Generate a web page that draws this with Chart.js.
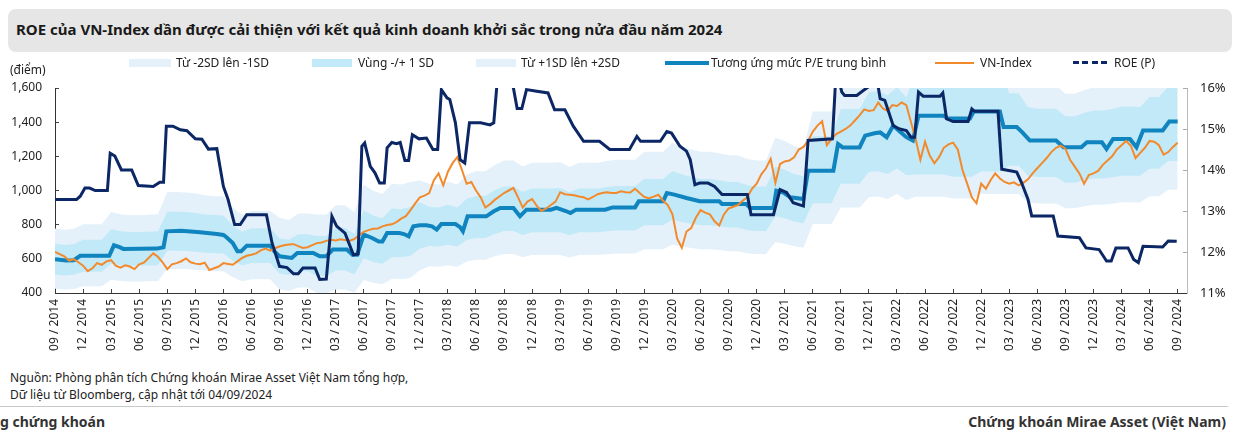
<!DOCTYPE html>
<html lang="vi">
<head>
<meta charset="utf-8">
<script src="https://cdn.jsdelivr.net/npm/chart.js@4.4.1/dist/chart.umd.min.js"></script>
<style>
  body { margin: 0; background: #fff; font-family: 'Noto Sans', sans-serif; color: #222; }
  #wrap { position: relative; width: 1237px; height: 439px; overflow: hidden; background: #fff; }
  #chart { position: absolute; left: 0; top: 0; }
  .title { position: absolute; left: 8px; top: 9px; width: 1224px; height: 43px; background: #e6e6e6; border-radius: 8px; }
  .title span { position: absolute; left: 8px; top: 10px; font-weight: 700; font-size: 15px; color: #1a1a1a; white-space: nowrap; }
  .txt { position: absolute; font-size: 12px; line-height: 16px; white-space: nowrap; color: #222; }
  .sw { position: absolute; }
  .rule { position: absolute; left: 0; top: 406px; width: 1228px; height: 1px; background: #c8c8c8; }
  .foot { position: absolute; top: 412px; font-size: 14px; font-weight: 700; color: #333; white-space: nowrap; }
</style>
</head>
<body>
<div id="wrap">
  <canvas id="chart" width="1237" height="365"></canvas>
  <div class="title"><span>ROE của VN-Index dần được cải thiện với kết quả kinh doanh khởi sắc trong nửa đầu năm 2024</span></div>

  <div class="sw" style="left:129px;top:59px;width:42px;height:8px;background:#e4f1fa"></div>
  <div class="txt" style="left:176px;top:55px">Từ -2SD lên -1SD</div>
  <div class="sw" style="left:312px;top:59px;width:40px;height:8px;background:#c2e9f8"></div>
  <div class="txt" style="left:358px;top:55px">Vùng -/+ 1 SD</div>
  <div class="sw" style="left:476px;top:59px;width:40px;height:8px;background:#e4f1fa"></div>
  <div class="txt" style="left:521px;top:55px">Từ +1SD lên +2SD</div>
  <div class="sw" style="left:665px;top:61px;width:44px;height:4px;background:#0f84bf"></div>
  <div class="txt" style="left:711px;top:55px">Tương ứng mức P/E trung bình</div>
  <div class="sw" style="left:935px;top:62px;width:39px;height:2px;background:#f28a2c"></div>
  <div class="txt" style="left:980px;top:55px">VN-Index</div>
  <div class="sw" style="left:1073px;top:61px;width:36px;height:3px;background:repeating-linear-gradient(90deg,#0b2765 0 6px,transparent 6px 9.5px)"></div>
  <div class="txt" style="left:1114px;top:55px">ROE (P)</div>

  <div class="txt" style="left:10px;top:62px">(điểm)</div>

  <div class="txt" style="left:10px;top:370px">Nguồn: Phòng phân tích Chứng khoán Mirae Asset Việt Nam tổng hợp,</div>
  <div class="txt" style="left:10px;top:387px">Dữ liệu từ Bloomberg, cập nhật tới 04/09/2024</div>
  <div class="rule"></div>
  <div class="foot" style="left:0">g chứng khoán</div>
  <div class="foot" style="right:11px">Chứng khoán Mirae Asset (Việt Nam)</div>
</div>

<script>
// x positions are months counted from 09/2014 (0) to 09/2024 (120)
const tickLabels = [
  '09 / 2014', '12 / 2014', '03 / 2015', '06 / 2015', '09 / 2015', '12 / 2015', '03 / 2016', '06 / 2016',
  '09 / 2016', '12 / 2016', '03 / 2017', '06 / 2017', '09 / 2017', '12 / 2017', '03 / 2018', '06 / 2018',
  '09 / 2018', '12 / 2018', '03 / 2019', '06 / 2019', '09 / 2019', '12 / 2019', '03 / 2020', '06 / 2020',
  '09 / 2020', '12 / 2020', '03 / 2021', '06 / 2021', '09 / 2021', '12 / 2021', '03 / 2022', '06 / 2022',
  '09 / 2022', '12 / 2022', '03 / 2023', '06 / 2023', '09 / 2023', '12 / 2023', '03 / 2024', '06 / 2024',
  '09 / 2024'
];

// VN-Index, one value every half month
const vnIndex = [
  640, 628, 615, 590, 598, 580, 560, 528, 545, 575,
  565, 585, 592, 560, 548, 562, 555, 540, 568, 578,
  605, 632, 612, 580, 540, 568, 575, 586, 602, 580,
  572, 568, 578, 535, 545, 555, 575, 570, 565, 585,
  605, 618, 624, 632, 650, 660, 648, 662, 672, 680,
  684, 686, 674, 664, 668, 680, 692, 696, 705, 712,
  708, 714, 710, 706, 716, 738, 758, 768, 776, 778,
  790, 798, 802, 815, 835, 850, 885, 925, 960, 970,
  985, 1060, 1100, 1030, 1110, 1160, 1196, 1120, 1040, 1050,
  1000, 960, 900, 920, 945, 965, 985, 1000, 1015, 960,
  900, 935, 950, 910, 880, 895, 915, 935, 990, 978,
  975, 972, 965, 960, 948, 962, 978, 985, 990, 986,
  985, 995, 990, 988, 1010, 985, 962, 955, 964, 975,
  940, 915, 860, 720, 665, 760, 780, 840, 885, 870,
  860, 820, 795, 860, 895, 905, 915, 940, 960, 1010,
  1040, 1095, 1130, 1185, 1045, 1155, 1170, 1175, 1195, 1240,
  1255, 1290, 1345, 1380, 1405, 1265, 1300, 1330, 1345, 1360,
  1380, 1410, 1440, 1475, 1465, 1470, 1515, 1480, 1465, 1500,
  1495, 1515, 1500, 1400, 1300, 1180, 1285, 1205, 1160, 1195,
  1250, 1270, 1280, 1240, 1120, 1040, 960, 925, 1040, 1010,
  1060, 1100, 1070, 1050, 1040, 1048, 1030, 1045, 1065, 1100,
  1130, 1160, 1190, 1225, 1250, 1262, 1245, 1180, 1140, 1100,
  1040, 1090, 1100, 1115, 1150, 1175, 1200, 1240, 1265, 1290,
  1262, 1190, 1220, 1250, 1290, 1285, 1265, 1210, 1225, 1255,
  1280
];

// index level at the mean P/E (breakpoints)
const peMonths = [
  0, 1.2, 2.0, 2.7, 5.8, 6.3, 6.9, 7.3, 10.9, 11.6,
  11.9, 13.5, 15.5, 17.3, 18.0, 18.3, 19.0, 19.5, 19.9, 20.5,
  23.0, 23.5, 24.0, 25.3, 25.9, 27.6, 28.3, 29.0, 29.7, 31.2,
  31.8, 32.3, 33.0, 33.9, 34.6, 35.0, 35.5, 36.8, 37.3, 37.8,
  38.3, 39.0, 39.7, 40.3, 40.8, 41.3, 42.8, 43.3, 43.6, 44.1,
  46.1, 46.9, 47.6, 49.0, 49.7, 50.4, 53.0, 53.6, 54.6, 55.1,
  55.7, 58.8, 59.6, 62.0, 62.4, 65.0, 65.4, 66.2, 67.5, 68.9,
  71.0, 71.3, 73.9, 74.3, 76.8, 77.1, 77.8, 78.6, 80.0, 80.5,
  83.2, 83.7, 84.2, 86.0, 86.6, 87.6, 88.2, 88.9, 89.6, 90.3,
  91.0, 91.7, 92.3, 95.0, 95.4, 97.8, 98.2, 101.0, 101.4, 102.8,
  103.4, 104.2, 107.0, 107.8, 109.7, 110.3, 111.9, 112.4, 113.1, 114.9,
  115.6, 116.3, 118.4, 119.1, 120.0
];
const peMean = [
  598, 590, 592, 618, 618, 679, 668, 658, 660, 668,
  761, 765, 755, 745, 740, 728, 693, 644, 644, 677,
  677, 640, 615, 605, 634, 634, 615, 615, 654, 654,
  624, 624, 741, 722, 702, 702, 751, 751, 745, 732,
  790, 796, 796, 790, 771, 804, 804, 785, 761, 849,
  849, 878, 898, 898, 849, 888, 888, 898, 880, 868,
  888, 888, 901, 901, 937, 937, 985, 976, 956, 937,
  937, 921, 921, 898, 898, 999, 990, 960, 950, 1116,
  1116, 1272, 1252, 1252, 1321, 1335, 1340, 1312, 1380, 1345,
  1312, 1292, 1438, 1438, 1422, 1422, 1462, 1462, 1371, 1371,
  1340, 1292, 1292, 1253, 1253, 1282, 1282, 1243, 1302, 1302,
  1253, 1351, 1351, 1404, 1404
];

// standard deviation bands, one value per month
const bandPlus2 = [
  777, 770, 775, 803, 803, 803, 874, 861, 855, 855,
  858, 861, 991, 991, 988, 982, 972, 967, 965, 901,
  858, 880, 880, 880, 840, 828, 865, 865, 860, 860,
  913, 913, 872, 1035, 998, 980, 1040, 1035, 1050, 1059,
  1040, 1035, 1053, 1035, 1094, 1112, 1112, 1150, 1176, 1176,
  1140, 1163, 1163, 1163, 1165, 1137, 1163, 1163, 1163, 1172,
  1180, 1180, 1180, 1227, 1227, 1227, 1280, 1258, 1240, 1227,
  1227, 1218, 1207, 1207, 1185, 1176, 1176, 1309, 1290, 1260,
  1245, 1462, 1462, 1462, 1640, 1640, 1640, 1749, 1755, 1729,
  1782, 1719, 1869, 1869, 1869, 1869, 1849, 1849, 1849, 1901,
  1901, 1901, 1714, 1714, 1625, 1615, 1615, 1615, 1566, 1566,
  1588, 1603, 1603, 1613, 1628, 1628, 1625, 1689, 1689, 1755,
  1755
];
const bandPlus1 = [
  688, 681, 685, 711, 711, 711, 773, 761, 757, 757,
  759, 761, 876, 876, 874, 868, 860, 856, 853, 797,
  759, 779, 779, 779, 721, 711, 744, 744, 734, 734,
  780, 780, 745, 884, 854, 837, 895, 890, 905, 931,
  905, 901, 917, 901, 952, 968, 968, 1001, 1024, 1024,
  992, 1012, 1012, 1012, 1014, 990, 1012, 1012, 1012, 1020,
  1027, 1027, 1027, 1068, 1068, 1068, 1113, 1095, 1079, 1068,
  1068, 1060, 1050, 1050, 1031, 1024, 1024, 1139, 1122, 1097,
  1083, 1317, 1317, 1317, 1477, 1477, 1477, 1575, 1581, 1558,
  1605, 1548, 1682, 1682, 1682, 1682, 1664, 1664, 1664, 1711,
  1711, 1711, 1570, 1570, 1489, 1479, 1479, 1479, 1435, 1435,
  1454, 1468, 1468, 1477, 1491, 1491, 1489, 1547, 1547, 1608,
  1608
];
const bandMinus1 = [
  508, 503, 507, 525, 525, 525, 571, 563, 559, 559,
  561, 563, 648, 648, 646, 642, 636, 632, 631, 589,
  561, 575, 575, 575, 513, 505, 528, 528, 500, 500,
  532, 532, 508, 603, 581, 571, 611, 609, 618, 661,
  675, 672, 683, 672, 710, 722, 722, 746, 763, 763,
  740, 755, 755, 755, 756, 738, 755, 755, 755, 761,
  766, 766, 766, 796, 796, 796, 830, 816, 805, 796,
  796, 791, 783, 783, 768, 763, 763, 849, 837, 818,
  808, 926, 926, 926, 1039, 1039, 1039, 1108, 1112, 1096,
  1129, 1089, 1093, 1093, 1093, 1093, 1081, 1081, 1081, 1111,
  1111, 1111, 1145, 1145, 1086, 1079, 1079, 1079, 1046, 1046,
  1060, 1070, 1070, 1077, 1087, 1087, 1086, 1128, 1128, 1172,
  1172
];
const bandMinus2 = [
  425, 420, 423, 439, 439, 439, 477, 470, 467, 467,
  469, 470, 541, 541, 540, 536, 531, 528, 527, 492,
  469, 481, 481, 481, 420, 413, 432, 432, 400, 400,
  420, 420, 401, 476, 460, 451, 483, 481, 489, 533,
  556, 553, 563, 553, 585, 594, 594, 615, 629, 629,
  609, 622, 622, 622, 623, 608, 622, 622, 622, 627,
  631, 631, 631, 656, 656, 656, 683, 672, 663, 656,
  656, 651, 645, 645, 633, 629, 629, 699, 689, 674,
  665, 804, 804, 804, 901, 901, 901, 961, 965, 950,
  979, 945, 963, 963, 963, 963, 953, 953, 953, 980,
  980, 980, 980, 980, 930, 924, 924, 924, 896, 896,
  908, 917, 917, 922, 931, 931, 930, 966, 966, 1004,
  1004
];

// ROE (%), right axis (breakpoints)
const roeMonths = [
  0, 2.3, 2.7, 3.2, 3.7, 4.3, 5.6, 5.9, 6.4, 7.1,
  8.2, 8.9, 10.5, 11.2, 11.6, 11.9, 12.6, 13.4, 14.1, 15.0,
  15.7, 16.4, 17.3, 18.0, 18.5, 19.2, 19.8, 20.5, 22.6, 23.2,
  24.0, 24.8, 25.5, 26.0, 26.5, 27.8, 28.3, 29.0, 29.6, 30.1,
  31.0, 31.9, 32.4, 32.8, 33.1, 33.7, 34.2, 34.7, 35.2, 35.5,
  36.0, 36.5, 36.9, 37.4, 37.8, 38.2, 38.9, 39.7, 40.4, 40.9,
  41.3, 41.9, 42.2, 42.8, 43.3, 43.8, 44.3, 45.5, 46.5, 46.9,
  47.3, 48.3, 49.0, 49.4, 49.9, 50.4, 51.5, 52.7, 53.4, 54.5,
  55.4, 56.5, 58.2, 59.3, 61.4, 62.2, 62.6, 64.7, 65.4, 65.9,
  66.8, 67.5, 67.9, 68.4, 68.9, 69.8, 70.5, 71.3, 74.0, 74.4,
  76.8, 77.5, 78.2, 78.9, 80.0, 80.5, 83.1, 83.4, 83.7, 84.1,
  84.4, 85.7, 86.4, 86.9, 87.8, 88.2, 88.7, 89.6, 90.3, 91.0,
  91.5, 91.9, 92.3, 92.8, 94.6, 94.9, 95.3, 96.0, 97.6, 98.0,
  98.3, 100.8, 101.2, 102.1, 102.8, 103.3, 104.0, 104.4, 106.7, 107.2,
  109.5, 110.2, 111.6, 112.4, 112.9, 113.4, 114.7, 115.3, 115.8, 116.3,
  118.4, 119.0, 119.9
];
const roeValues = [
  13.28, 13.28, 13.36, 13.56, 13.56, 13.5, 13.5, 14.41, 14.34, 14.0,
  14.0, 13.62, 13.6, 13.7, 13.7, 15.07, 15.07, 14.98, 14.96, 14.76,
  14.75, 14.51, 14.52, 13.6, 13.28, 12.67, 12.67, 12.91, 12.91, 12.22,
  11.65, 11.62, 11.47, 11.47, 11.61, 11.61, 11.33, 11.34, 12.87, 12.63,
  12.46, 11.93, 11.95, 14.58, 14.66, 14.09, 13.93, 13.68, 13.68, 14.54,
  14.67, 14.64, 14.67, 14.23, 14.23, 14.86, 14.76, 14.78, 14.5, 14.5,
  15.96, 15.76, 15.72, 15.15, 14.25, 14.17, 15.15, 15.15, 15.1, 15.15,
  16.25, 16.25, 16.0, 15.5, 15.5, 15.96, 15.92, 15.88, 15.47, 15.47,
  15.07, 14.7, 14.7, 14.5, 14.5, 14.82, 14.7, 14.7, 14.94, 14.9,
  14.58, 14.46, 14.25, 13.64, 13.68, 13.68, 13.6, 13.4, 13.4, 12.91,
  12.91, 13.52, 13.45, 13.2, 13.12, 14.72, 14.76, 16.02, 16.3, 15.9,
  15.82, 15.82, 15.94, 16.02, 16.3, 15.74, 15.7, 15.08, 15.0, 14.96,
  14.8, 14.8, 15.9, 15.8, 15.8, 15.88, 15.25, 15.18, 15.18, 15.49,
  15.43, 15.43, 14.02, 13.98, 13.95, 13.7, 13.29, 12.88, 12.88, 12.39,
  12.35, 12.1, 12.06, 11.78, 11.78, 12.1, 12.1, 11.82, 11.74, 12.14,
  12.12, 12.27, 12.26
];

const paleBlue = '#e4f1fa';
const lightCyan = '#c2e9f8';

Chart.defaults.font.family = "'Noto Sans', sans-serif";
Chart.defaults.color = '#222';

const monthly = arr => arr.map((v, i) => ({ x: i, y: v }));
const paired = (xs, ys) => xs.map((x, i) => ({ x: x, y: ys[i] }));

function bandSet(label, data, fill, color, order) {
  return {
    label: label,
    data: data,
    yAxisID: 'y',
    borderWidth: 0,
    pointRadius: 0,
    fill: fill,
    backgroundColor: color,
    order: order
  };
}

new Chart(document.getElementById('chart'), {
  type: 'line',
  data: {
    datasets: [
      bandSet('-2SD', monthly(bandMinus2), false, paleBlue, 5),
      bandSet('+2SD', monthly(bandPlus2), 0, paleBlue, 5),
      bandSet('-1SD', monthly(bandMinus1), false, lightCyan, 4),
      bandSet('+1SD', monthly(bandPlus1), 2, lightCyan, 4),
      {
        label: 'Tương ứng mức P/E trung bình',
        data: paired(peMonths, peMean),
        yAxisID: 'y',
        borderColor: '#0f84bf',
        borderWidth: 4,
        pointRadius: 0,
        fill: false,
        order: 2
      },
      {
        label: 'VN-Index',
        data: vnIndex.map((v, i) => ({ x: i / 2, y: v })),
        yAxisID: 'y',
        borderColor: '#f28a2c',
        borderWidth: 2,
        pointRadius: 0,
        fill: false,
        order: 1
      },
      {
        label: 'ROE (P)',
        data: paired(roeMonths, roeValues),
        yAxisID: 'y1',
        borderColor: '#0b2765',
        borderWidth: 3,
        pointRadius: 0,
        fill: false,
        order: 0
      }
    ]
  },
  options: {
    responsive: false,
    animation: false,
    layout: { padding: { top: 88, left: 0, right: 0, bottom: 0 } },
    plugins: { legend: { display: false }, tooltip: { enabled: false } },
    scales: {
      x: {
        type: 'linear',
        min: 0,
        max: 121,
        grid: { drawOnChartArea: false, tickLength: -4, color: '#444' },
        border: { color: '#333' },
        ticks: {
          stepSize: 3,
          includeBounds: false,
          autoSkip: false,
          minRotation: 90,
          maxRotation: 90,
          padding: 10,
          font: { size: 12 },
          callback: v => tickLabels[v / 3]
        },
        afterFit: s => { s.height = 72; }
      },
      y: {
        position: 'left',
        min: 400,
        max: 1600,
        grid: { drawOnChartArea: false, tickLength: -4, color: '#444' },
        border: { color: '#333' },
        ticks: { stepSize: 200, padding: 17, font: { size: 12 }, callback: v => v.toLocaleString('en-US') },
        afterFit: s => { s.width = 55; }
      },
      y1: {
        position: 'right',
        min: 11,
        max: 16,
        grid: { drawOnChartArea: false, tickLength: -4, color: '#aaa' },
        border: { color: '#bbb' },
        ticks: { stepSize: 1, padding: 17, font: { size: 13 }, callback: v => v + '%' },
        afterFit: s => { s.width = 50; }
      }
    }
  }
});
</script>
</body>
</html>
